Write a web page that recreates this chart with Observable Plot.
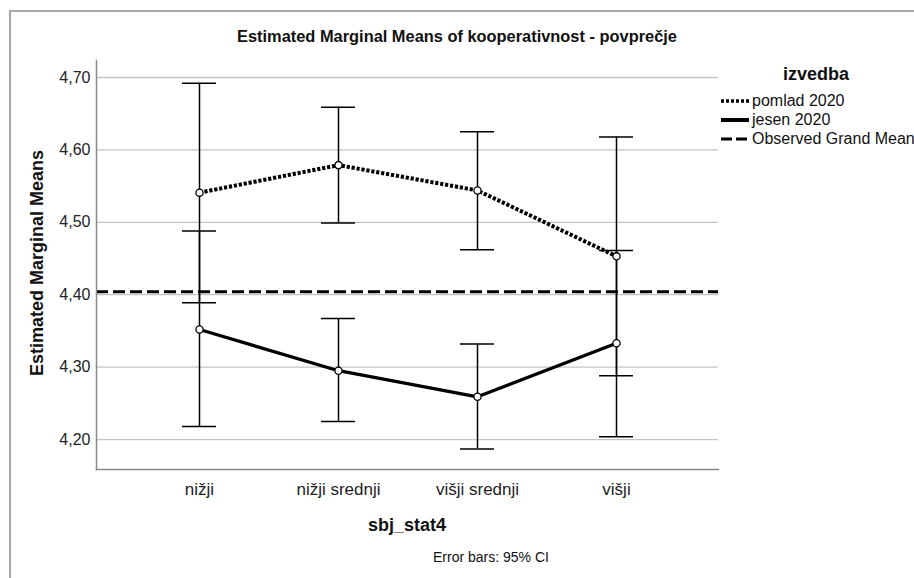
<!DOCTYPE html>
<html>
<head>
<meta charset="utf-8">
<script src="https://cdn.jsdelivr.net/npm/d3@7"></script>
<script src="https://cdn.jsdelivr.net/npm/@observablehq/plot@0.6"></script>
<style>
  html, body { margin: 0; padding: 0; background: #fff; overflow: hidden; }
  #wrap { position: relative; width: 914px; height: 578px; overflow: hidden; font-family: "Liberation Sans", Arial, sans-serif; color: #111; }
  #border { position: absolute; left: 9px; top: 10px; width: 1200px; height: 1200px; border: 2px solid #a8a8a8; box-sizing: border-box; }
  #chart { position: absolute; left: 0; top: 0; }
  .t { position: absolute; white-space: nowrap; }
  #title { left: 0; width: 914px; text-align: center; top: 27px; font-size: 16.4px; font-weight: bold; }
  #ylab { left: 37px; top: 263px; font-size: 18px; font-weight: bold; transform: translate(-50%, -50%) rotate(-90deg); }
  #xlab { left: 407px; top: 515px; font-size: 18px; font-weight: bold; transform: translateX(-50%); }
  #cap { left: 491px; top: 549px; font-size: 14px; transform: translateX(-50%); }
  #legend { position: absolute; left: 720px; top: 65px; }
  #legend .head { font-size: 18px; font-weight: bold; margin-left: 63px; height: 26px; line-height: 18px; }
  #legend .row { display: flex; align-items: center; height: 19px; font-size: 16px; white-space: nowrap; }
  #legend svg { margin-right: 2px; }
</style>
</head>
<body>
<div id="wrap">
  <div id="border"></div>
  <div id="chart"></div>
  <div class="t" id="title"></div>
  <div class="t" id="ylab"></div>
  <div class="t" id="xlab"></div>
  <div class="t" id="cap"></div>
  <div id="legend"></div>
</div>
<script>
// ---- data ----
const categories = ["nižji", "nižji srednji", "višji srednji", "višji"];
const pomladMean = [4.541, 4.579, 4.544, 4.453];
const pomladLo   = [4.389, 4.499, 4.462, 4.288];
const pomladHi   = [4.692, 4.659, 4.625, 4.618];
const jesenMean  = [4.352, 4.295, 4.259, 4.333];
const jesenLo    = [4.218, 4.225, 4.187, 4.204];
const jesenHi    = [4.488, 4.367, 4.332, 4.461];
const grandMean  = 4.404;
const yTicks     = [4.2, 4.3, 4.4, 4.5, 4.6, 4.7];
const seriesNames = ["pomlad 2020", "jesen 2020", "Observed Grand Mean"];
const legendTitle = "izvedba";
const titleText = "Estimated Marginal Means of kooperativnost - povprečje";
const yLabel = "Estimated Marginal Means";
const xLabel = "sbj_stat4";
const caption = "Error bars: 95% CI";

// ---- tables ----
const pomlad = categories.map((c, i) => ({cat: c, mean: pomladMean[i], lo: pomladLo[i], hi: pomladHi[i]}));
const jesen  = categories.map((c, i) => ({cat: c, mean: jesenMean[i], lo: jesenLo[i], hi: jesenHi[i]}));
const all = pomlad.concat(jesen);

const fmt = d => d.toFixed(2).replace(".", ",");

const chart = Plot.plot({
  width: 914,
  height: 578,
  marginLeft: 96,
  marginRight: 196,
  marginTop: 60,
  marginBottom: 109,
  style: {fontFamily: "Liberation Sans, Arial, sans-serif", fontSize: "16px", color: "#222", background: "transparent", overflow: "visible"},
  x: {type: "band", domain: categories, paddingInner: 0.757, paddingOuter: 0.6, align: 0.5, label: null},
  y: {domain: [4.1586, 4.7235], label: null},
  marks: [
    Plot.ruleY(yTicks, {stroke: "#c4c4c4", strokeWidth: 1.3}),
    Plot.ruleY([grandMean], {stroke: "#000", strokeWidth: 3, strokeDasharray: "12,5", strokeLinecap: "butt"}),
    Plot.ruleX(all, {x: "cat", y1: "lo", y2: "hi", stroke: "#000", strokeWidth: 1.5}),
    Plot.tickY(all, {x: "cat", y: "lo", stroke: "#000", strokeWidth: 1.5}),
    Plot.tickY(all, {x: "cat", y: "hi", stroke: "#000", strokeWidth: 1.5}),
    Plot.line(pomlad, {x: "cat", y: "mean", stroke: "#000", strokeWidth: 4, strokeDasharray: "3.2,1.8", strokeLinecap: "butt", strokeLinejoin: "miter"}),
    Plot.line(jesen, {x: "cat", y: "mean", stroke: "#000", strokeWidth: 3.3}),
    Plot.dot(all, {x: "cat", y: "mean", r: 3.6, fill: "#fff", stroke: "#000", strokeWidth: 1.3}),
    Plot.frame({anchor: "left", stroke: "#8a8a8a", strokeWidth: 1.5}),
    Plot.frame({anchor: "bottom", stroke: "#8a8a8a", strokeWidth: 1.5}),
    Plot.axisY(yTicks, {tickSize: 0, tickPadding: 6, tickFormat: fmt, fontSize: 16, label: null}),
    Plot.axisX({tickSize: 0, tickPadding: 13, fontSize: 17, label: null})
  ]
});
document.getElementById("chart").appendChild(chart);

document.getElementById("title").textContent = titleText;
document.getElementById("ylab").textContent = yLabel;
document.getElementById("xlab").textContent = xLabel;
document.getElementById("cap").textContent = caption;

// ---- legend ----
const styles = [
  {w: 3.5, dash: "3,2"},
  {w: 4, dash: null},
  {w: 3, dash: "11,4"}
];
const lg = document.getElementById("legend");
const head = document.createElement("div");
head.className = "head";
head.textContent = legendTitle;
lg.appendChild(head);
seriesNames.forEach((name, i) => {
  const row = document.createElement("div");
  row.className = "row";
  const ns = "http://www.w3.org/2000/svg";
  const svg = document.createElementNS(ns, "svg");
  svg.setAttribute("width", 30);
  svg.setAttribute("height", 10);
  const ln = document.createElementNS(ns, "line");
  ln.setAttribute("x1", 1); ln.setAttribute("x2", 29);
  ln.setAttribute("y1", 5); ln.setAttribute("y2", 5);
  ln.setAttribute("stroke", "#000");
  ln.setAttribute("stroke-width", styles[i].w);
  if (styles[i].dash) ln.setAttribute("stroke-dasharray", styles[i].dash);
  svg.appendChild(ln);
  row.appendChild(svg);
  const sp = document.createElement("span");
  sp.textContent = name;
  row.appendChild(sp);
  lg.appendChild(row);
});
</script>
</body>
</html>
